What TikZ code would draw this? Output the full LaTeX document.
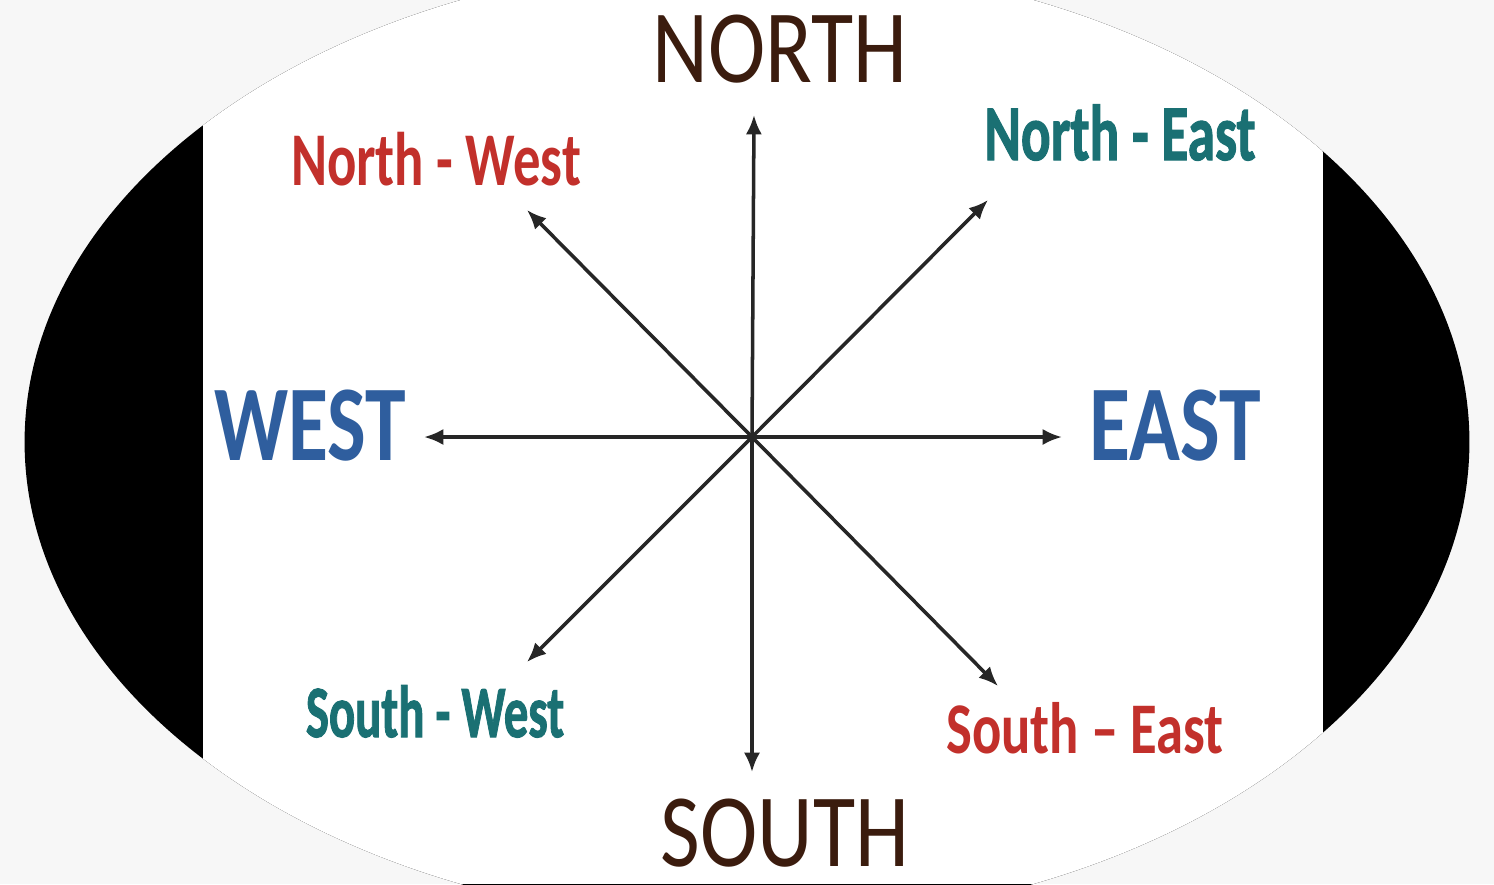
\documentclass[tikz,border=0pt]{standalone}
\usepackage{fontspec}
\setmainfont{Carlito}
\newfontfamily\heavyfont{Carlito}[BoldFeatures={FakeBold=1.6}]
\usetikzlibrary{arrows.meta}
\definecolor{pagegray}{HTML}{F7F7F7}
\definecolor{brownN}{HTML}{3B1C0E}
\definecolor{blueEW}{HTML}{2F5E9E}
\definecolor{redD}{HTML}{C2302B}
\definecolor{tealD}{HTML}{1A7073}

\begin{document}
\begin{tikzpicture}[
x=0.01cm, y=-0.01cm,
lbl/.style={inner sep=0pt, anchor=base},
main/.style={lbl, font=\fontsize{29.6pt}{30pt}\selectfont, text=brownN},
side/.style={lbl, font=\fontsize{30.6pt}{31pt}\selectfont\bfseries, text=blueEW},
diag/.style={lbl, font=\fontsize{21.6pt}{22pt}\selectfont\bfseries},
ray/.style={draw=black!85, line width=1pt, -{Latex[length=5.5pt,width=4.6pt]}}
]
\useasboundingbox (0,0) rectangle (1494,884);
\fill[pagegray] (0,0) rectangle (1494,884);
\fill[black] (747,442) ellipse [x radius=7.22cm, y radius=4.81cm];
\begin{scope}
\clip (747,442) ellipse [x radius=7.22cm, y radius=4.81cm];
\fill[white] (203,0) rectangle (1323,884);
\end{scope}

\node[main, xscale=0.83] (north) at (780,82) {NORTH};
\node[main, xscale=0.83] (south) at (785,866) {SOUTH};
\node[side, xscale=0.76] (west) at (310,460) {WEST};
\node[side, xscale=0.78] (east) at (1175,460) {EAST};
\node[diag, text=redD, xscale=0.72] (nw) at (436,185) {North - West};
\node[diag, text=tealD, font=\fontsize{22.5pt}{23pt}\selectfont\heavyfont\bfseries, xscale=0.70] (ne) at (1120,160) {North - East};
\node[diag, text=tealD, font=\fontsize{21pt}{22pt}\selectfont\heavyfont\bfseries, xscale=0.66] (sw) at (435,737) {South - West};
\node[diag, text=redD, font=\fontsize{20.7pt}{21pt}\selectfont\bfseries, xscale=0.75] (se) at (1085,753) {South – East};

\coordinate (c) at (752,437);
\coordinate (ntip) at (754,115);
\coordinate (stip) at (752,772);
\coordinate (wtip) at (424,437);
\coordinate (etip) at (1062,437);
\coordinate (nwtip) at (527,210);
\coordinate (netip) at (988,200);
\coordinate (swtip) at (527,662);
\coordinate (setip) at (998,686);

\draw[ray] (c) -- (ntip);
\draw[ray] (c) -- (stip);
\draw[ray] (c) -- (wtip);
\draw[ray] (c) -- (etip);
\draw[ray] (c) -- (nwtip);
\draw[ray] (c) -- (netip);
\draw[ray] (c) -- (swtip);
\draw[ray] (c) -- (setip);
\end{tikzpicture}
\end{document}
